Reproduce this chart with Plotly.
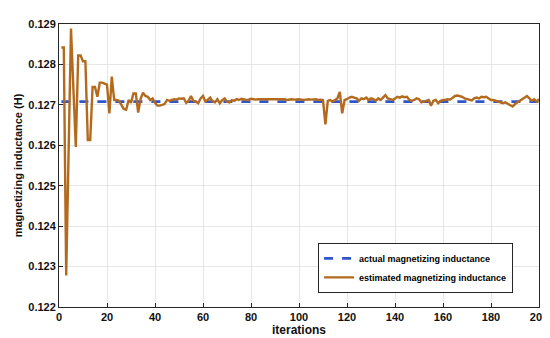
import plotly.graph_objects as go

iterations = list(range(1, 201))
actual_value = 0.12708
actual = [actual_value] * len(iterations)

estimated = [
    0.12842, 0.12842, 0.12278, 0.12580, 0.12889, 0.12740, 0.12596, 0.12822, 0.12822, 0.12808,
    0.12808, 0.12613, 0.12613, 0.12744, 0.12744, 0.12720, 0.12755, 0.12755, 0.12752, 0.12750,
    0.12679, 0.12770, 0.12712, 0.12712, 0.12710, 0.12700, 0.12690, 0.12688, 0.12712, 0.12705,
    0.12728, 0.12728, 0.12681, 0.12715, 0.12730, 0.12722, 0.12720, 0.12712, 0.12716, 0.12705,
    0.12698, 0.12698, 0.12700, 0.12702, 0.12712, 0.12710, 0.12712, 0.12714, 0.12713, 0.12716,
    0.12715, 0.12716, 0.12705, 0.12710, 0.12722, 0.12710, 0.12708, 0.12704, 0.12716, 0.12722,
    0.12708, 0.12712, 0.12718, 0.12708, 0.12706, 0.12714, 0.12704, 0.12712, 0.12716, 0.12708,
    0.12706, 0.12712, 0.12710, 0.12714, 0.12712, 0.12715, 0.12714, 0.12712, 0.12713, 0.12715,
    0.12714, 0.12713, 0.12714, 0.12714, 0.12713, 0.12714, 0.12713, 0.12714, 0.12713, 0.12713,
    0.12714, 0.12714, 0.12713, 0.12714, 0.12712, 0.12713, 0.12714, 0.12713, 0.12714, 0.12714,
    0.12713, 0.12712, 0.12713, 0.12714, 0.12713, 0.12713, 0.12714, 0.12712, 0.12713, 0.12712,
    0.12652, 0.12710, 0.12712, 0.12708, 0.12712, 0.12716, 0.12732, 0.12679, 0.12712, 0.12714,
    0.12718, 0.12720, 0.12718, 0.12716, 0.12710, 0.12716, 0.12714, 0.12718, 0.12712, 0.12716,
    0.12714, 0.12710, 0.12716, 0.12712, 0.12718, 0.12724, 0.12716, 0.12714, 0.12712, 0.12716,
    0.12720, 0.12718, 0.12721, 0.12719, 0.12720, 0.12712, 0.12710, 0.12712, 0.12716, 0.12714,
    0.12706, 0.12708, 0.12710, 0.12712, 0.12698, 0.12710, 0.12712, 0.12704, 0.12710, 0.12712,
    0.12712, 0.12714, 0.12713, 0.12718, 0.12722, 0.12723, 0.12722, 0.12720, 0.12716, 0.12714,
    0.12712, 0.12711, 0.12716, 0.12718, 0.12716, 0.12720, 0.12719, 0.12720, 0.12716, 0.12712,
    0.12712, 0.12710, 0.12708, 0.12706, 0.12704, 0.12706, 0.12702, 0.12698, 0.12696, 0.12702,
    0.12706, 0.12708, 0.12712, 0.12718, 0.12722, 0.12716, 0.12710, 0.12714, 0.12708, 0.12714,
]

x_ticks = list(range(0, 201, 20))
y_ticks = [0.122, 0.123, 0.124, 0.125, 0.126, 0.127, 0.128, 0.129]
y_tick_labels = ["0.122", "0.123", "0.124", "0.125", "0.126", "0.127", "0.128", "0.129"]

font_family = "Liberation Sans, Arial, sans-serif"

fig = go.Figure()
fig.add_trace(go.Scatter(
    x=iterations, y=actual, mode="lines",
    name="<b>actual magnetizing inductance</b>",
    line=dict(color="#2f55c8", width=2.6, dash="dash"),
))
fig.add_trace(go.Scatter(
    x=iterations, y=estimated, mode="lines",
    name="<b>estimated magnetizing inductance</b>",
    line=dict(color="#b36a1e", width=2.4),
))

axis_common = dict(
    showline=True, linecolor="#262626", linewidth=1, mirror=True,
    showgrid=True, gridcolor="#e6e6e6", gridwidth=1,
    ticks="inside", ticklen=4, tickcolor="#262626",
    zeroline=False,
    tickfont=dict(family=font_family, size=11, color="#111111", weight="bold"),
)

fig.update_layout(
    width=550, height=338,
    margin=dict(l=44, r=10, t=11, b=39),
    paper_bgcolor="white", plot_bgcolor="white",
    font=dict(family=font_family, color="#111111"),
    showlegend=True,
    legend=dict(
        x=0.946, y=0.05, xanchor="right", yanchor="bottom",
        bgcolor="white", bordercolor="#262626", borderwidth=1,
        font=dict(family=font_family, size=9, color="#000000", weight="bold"),
        tracegroupgap=0, itemwidth=30,
    ),
    xaxis=dict(
        range=[0, 200], tickvals=x_ticks,
        ticktext=[f"<b>{v}</b>" for v in x_ticks],
        title=dict(text="<b>iterations</b>", font=dict(size=12, family=font_family, weight="bold"), standoff=2),
        **axis_common,
    ),
    yaxis=dict(
        range=[0.122, 0.129], tickvals=y_ticks,
        ticktext=[f"<b>{t}</b>" for t in y_tick_labels],
        title=dict(text="<b>magnetizing inductance (H)</b>", font=dict(size=11, family=font_family, weight="bold"), standoff=3),
        **axis_common,
    ),
)

fig.write_html("out.html")
